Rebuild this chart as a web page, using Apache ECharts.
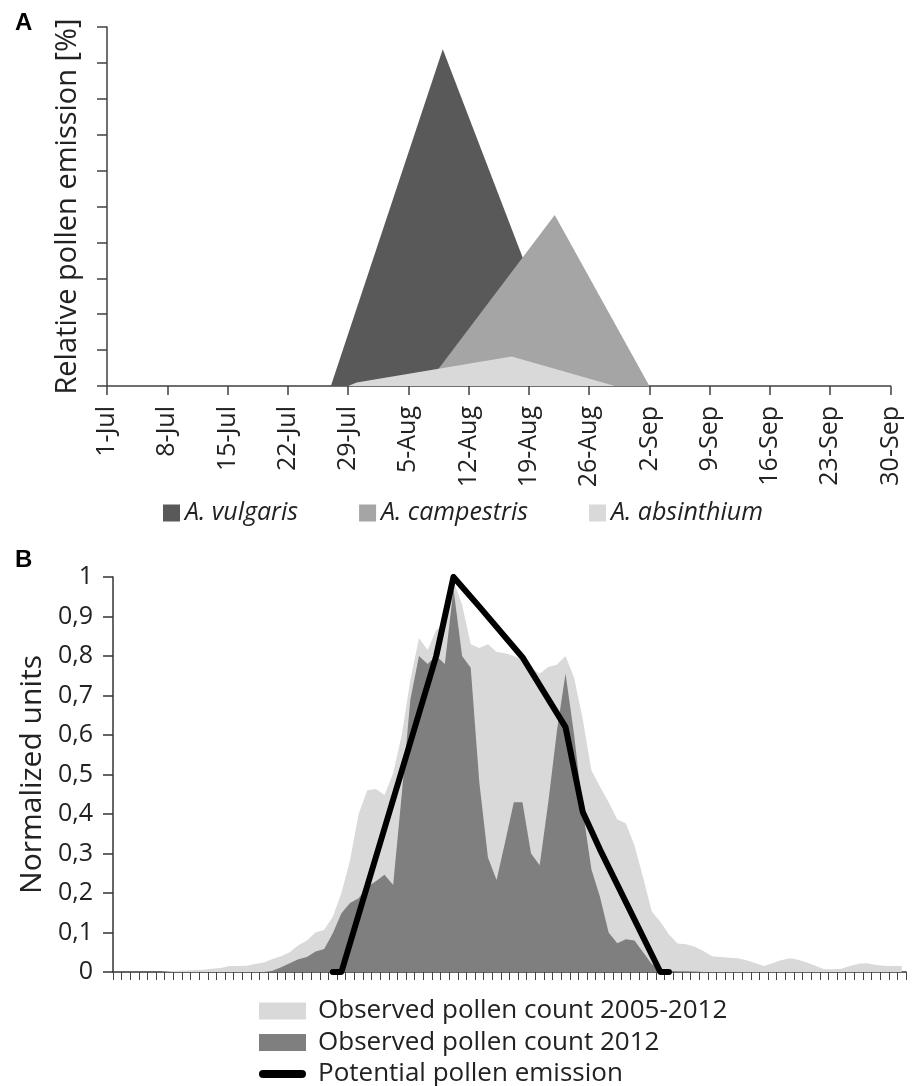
<!DOCTYPE html>
<html><head><meta charset="utf-8">
<script src="https://cdn.jsdelivr.net/npm/echarts@6/dist/echarts.min.js"></script>
<style>html,body{margin:0;padding:0;background:#fff}#c{width:918px;height:1086px}</style>
</head><body><div id="c"></div>
<script>
// ---------- Panel A ----------
const weekLabels = ['1-Jul','8-Jul','15-Jul','22-Jul','29-Jul','5-Aug','12-Aug','19-Aug','26-Aug','2-Sep','9-Sep','16-Sep','23-Sep','30-Sep'];
// x = days after 1-Jul, y = relative pollen emission [%]
const vulgarisDays = [26, 39, 54];
const vulgarisValues = [0, 93.8, 0];
const campestrisDays = [37, 52, 63];
const campestrisValues = [0, 47.6, 0];
const absinthiumDays = [28, 29, 47, 59];
const absinthiumValues = [0, 1.0, 8.2, 0];

// ---------- Panel B ----------
const monthNames = ['Jul', 'Aug', 'Sep'];
const monthLengths = [31, 31, 30];
const dayCategories = [];
monthNames.forEach((m, k) => { for (let d = 1; d <= monthLengths[k]; d++) dayCategories.push(d + '-' + m); });

const observed2005_2012 = [
  0, 0, 0, 0, 0, 0,
  0.002, 0.003, 0.004, 0.005, 0.006, 0.008,
  0.010, 0.015, 0.015, 0.016, 0.020, 0.024,
  0.033, 0.040, 0.050, 0.068, 0.080, 0.100,
  0.107, 0.140, 0.200, 0.283, 0.400, 0.460,
  0.463, 0.448, 0.503, 0.600, 0.740, 0.845,
  0.815, 0.866, 0.880, 0.990, 0.930, 0.830,
  0.820, 0.830, 0.810, 0.807, 0.800, 0.790,
  0.770, 0.755, 0.772, 0.778, 0.800, 0.745,
  0.640, 0.511, 0.469, 0.430, 0.387, 0.376,
  0.320, 0.240, 0.153, 0.127, 0.095, 0.072,
  0.070, 0.064, 0.053, 0.040, 0.038, 0.036,
  0.035, 0.030, 0.023, 0.015, 0.022, 0.030,
  0.035, 0.031, 0.024, 0.016, 0.007, 0.007,
  0.008, 0.015, 0.021, 0.022, 0.018, 0.016,
  0.015, 0.015
];
const observed2012 = [
  0, 0, 0, 0, 0, 0,
  0, 0, 0, 0, 0, 0,
  0, 0, 0, 0, 0, 0,
  0.003, 0.012, 0.022, 0.032, 0.038, 0.052,
  0.058, 0.098, 0.149, 0.175, 0.187, 0.216,
  0.230, 0.246, 0.220, 0.450, 0.690, 0.800,
  0.780, 0.800, 0.780, 0.970, 0.800, 0.770,
  0.480, 0.290, 0.233, 0.330, 0.430, 0.430,
  0.300, 0.270, 0.430, 0.610, 0.756, 0.600,
  0.410, 0.260, 0.190, 0.100, 0.073, 0.083,
  0.080, 0.050, 0.020, 0.005, 0.003, 0.002,
  0.002, 0.001, 0, 0, 0, 0,
  0, 0, 0, 0, 0, 0,
  0, 0, 0, 0, 0, 0,
  0, 0, 0, 0, 0, 0,
  0, 0
];
// breakpoints of potential emission (index into dayCategories, value)
const potentialDays = [25, 26, 37, 39, 42, 47, 52, 54, 56, 63, 64];
const potentialValues = [0, 0, 0.80, 1.0, 0.925, 0.797, 0.62, 0.405, 0.31, 0, 0];
const yTickLabelsB = ['0', '0,1', '0,2', '0,3', '0,4', '0,5', '0,6', '0,7', '0,8', '0,9', '1'];

const FONT = 'Open Sans';
const pairs = (xs, ys) => xs.map((x, i) => [x, ys[i]]);
const areaSeries = (name, xi, yi, data, color) => ({
  name, type: 'line', xAxisIndex: xi, yAxisIndex: yi, data,
  symbol: 'none', showSymbol: false, itemStyle: { color },
  lineStyle: { width: 0, color }, areaStyle: { color, opacity: 1 }, silent: true
});
// thick rounded bar icon, padded to the 47x17 legend box
const lineIcon = 'path://M0,0L0.01,0L0,0.01Z M4,4.5L43,4.5A4,4 0 0 1 43,12.5L4,12.5A4,4 0 0 1 4,4.5Z M47,17L46.99,17L47,16.99Z';
const legendBText = { fontFamily: FONT, fontSize: 26, lineHeight: 24, color: '#222', padding: [0, 0, 0, 7] };
const legendB = (item, top) => ({
  left: 259, top, padding: 0, itemWidth: 47, itemHeight: 17, data: [item], textStyle: legendBText
});

const chart = echarts.init(document.getElementById('c'), null, { renderer: 'canvas' });
chart.setOption({
  animation: false,
  backgroundColor: '#fff',
  grid: [
    { left: 107, right: 27.5, top: 27, height: 359 },
    { left: 113, right: 12, top: 577, height: 395 }
  ],
  xAxis: [
    {
      gridIndex: 0, type: 'value', min: 0, max: 91, interval: 7,
      axisLine: { lineStyle: { color: '#404040', width: 1.5 } },
      axisTick: { show: true, length: 9, lineStyle: { color: '#404040', width: 1.5 } },
      splitLine: { show: false },
      axisLabel: {
        rotate: 90, margin: 20, fontSize: 25, fontFamily: FONT, color: '#222',
        formatter: v => weekLabels[Math.round(v / 7)]
      }
    },
    {
      gridIndex: 1, type: 'category', data: dayCategories, boundaryGap: true,
      axisLine: { lineStyle: { color: '#333', width: 1.5 } },
      axisTick: { show: true, interval: 0, length: 8, lineStyle: { color: '#444', width: 1 } },
      axisLabel: { show: false }
    }
  ],
  yAxis: [
    {
      gridIndex: 0, type: 'value', min: 0, max: 100, interval: 10,
      axisLine: { show: true, lineStyle: { color: '#404040', width: 1.5 } },
      axisTick: { show: true, length: 10, lineStyle: { color: '#404040', width: 1.5 } },
      axisLabel: { show: false }, splitLine: { show: false },
      name: 'Relative pollen emission [%]', nameLocation: 'middle', nameGap: 25,
      nameTextStyle: { fontSize: 29, fontFamily: FONT, color: '#222' }
    },
    {
      gridIndex: 1, type: 'value', min: 0, max: 1, interval: 0.1,
      axisLine: { show: true, lineStyle: { color: '#333', width: 1.5 } },
      axisTick: { show: true, length: 10, lineStyle: { color: '#333', width: 1.5 } },
      splitLine: { show: false },
      axisLabel: {
        margin: 20, fontSize: 25, fontFamily: FONT, color: '#222',
        formatter: v => yTickLabelsB[Math.round(v * 10)]
      },
      name: 'Normalized units', nameLocation: 'middle', nameGap: 62,
      nameTextStyle: { fontSize: 30, fontFamily: FONT, color: '#222' }
    }
  ],
  legend: [
    {
      left: 163, top: 500, padding: 0, itemWidth: 17, itemHeight: 17, itemGap: 61, icon: 'rect',
      data: ['A. vulgaris', 'A. campestris', 'A. absinthium'],
      textStyle: { fontFamily: FONT, fontStyle: 'italic', fontSize: 25, lineHeight: 26, color: '#222' }
    },
    legendB({ name: 'Observed pollen count 2005-2012', icon: 'rect' }, 998),
    legendB({ name: 'Observed pollen count 2012', icon: 'rect' }, 1029.5),
    legendB({ name: 'Potential pollen emission', icon: lineIcon, itemStyle: { color: '#000' } }, 1061)
  ],
  graphic: [
    { type: 'text', left: 15, top: 11, style: { text: 'A', fontSize: 24, fontWeight: 'bold', fontFamily: 'Liberation Sans', fill: '#000' } },
    { type: 'text', left: 15, top: 548, style: { text: 'B', fontSize: 24, fontWeight: 'bold', fontFamily: 'Liberation Sans', fill: '#000' } }
  ],
  series: [
    areaSeries('A. vulgaris', 0, 0, pairs(vulgarisDays, vulgarisValues), '#595959'),
    areaSeries('A. campestris', 0, 0, pairs(campestrisDays, campestrisValues), '#a5a5a5'),
    areaSeries('A. absinthium', 0, 0, pairs(absinthiumDays, absinthiumValues), '#d9d9d9'),
    areaSeries('Observed pollen count 2005-2012', 1, 1, observed2005_2012, '#d9d9d9'),
    areaSeries('Observed pollen count 2012', 1, 1, observed2012, '#7f7f7f'),
    {
      name: 'Potential pollen emission', type: 'line', xAxisIndex: 1, yAxisIndex: 1,
      data: pairs(potentialDays, potentialValues),
      symbol: 'none', showSymbol: false, itemStyle: { color: '#000' },
      lineStyle: { width: 6, color: '#000', cap: 'round', join: 'round' }, silent: true
    }
  ]
});
</script>
</body></html>
